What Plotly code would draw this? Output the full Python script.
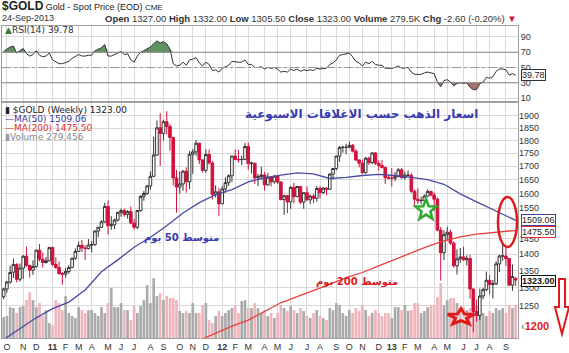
import math
import pandas as pd
import plotly.graph_objects as go

# ---------------- data (weekly bars, 24-Sep-2010 .. 24-Sep-2013) ----------------
first_week = "2010-09-24"
last_bar_date = "2013-09-24"

open_ = [1275,1297,1317,1346,1369,1325,1358,1394,1366,1352,1363,1413,1385,1375,1380,
         1421,1369,1360,1342,1340,1348,1360,1388,1409,1428,1420,1418,1429,1430,1474,1486,
         1504,1556,1491,1494,1510,1536,1542,1529,1539,1500,1486,1542,1591,1601,1628,1663,
         1743,1851,1828,1876,1856,1812,1657,1624,1635,1682,1643,1746,1755,1789,1724,1685,
         1745,1713,1598,1607,
         1565,1617,1640,1665,1739,1726,1725,1726,1776,1710,1712,1657,1662,1668,1632,1660,
         1643,1664,1642,1580,1593,1572,1623,1590,1626,1571,1604,1579,1592,1584,1619,1604,
         1620,1616,1671,1692,1739,1772,1773,1773,1781,1758,1724,1712,1676,1731,1714,1751,
         1712,1703,1696,1658,
         1656,1656,1662,1687,1658,1667,1667,1609,1581,1576,1577,1592,1608,1596,1581,1477,
         1405,1462,1470,1435,1365,1386,1392,1383,1387,1297,1234,1223,1277,1295,1322,1310,
         1312,1371,1395,1395,1387,1308,1327]
close = [1297,1317,1345,1369,1325,1358,1394,1366,1352,1363,1413,1385,1375,1380,1421,
         1369,1360,1342,1340,1348,1360,1388,1409,1428,1420,1418,1429,1430,1474,1486,1504,
         1556,1491,1494,1510,1536,1542,1529,1539,1500,1486,1542,1591,1601,1628,1663,1743,
         1851,1828,1876,1856,1812,1657,1624,1635,1682,1643,1746,1755,1789,1724,1685,1745,
         1713,1598,1607,1565,
         1617,1640,1665,1739,1726,1725,1726,1776,1710,1712,1657,1662,1668,1632,1660,1643,
         1664,1642,1580,1593,1572,1623,1590,1626,1571,1604,1579,1592,1584,1619,1604,1620,
         1616,1671,1692,1739,1772,1773,1773,1781,1758,1724,1712,1676,1731,1714,1751,1712,
         1703,1696,1658,1656,
         1656,1662,1687,1658,1667,1667,1609,1581,1576,1577,1592,1608,1596,1581,1477,1405,
         1462,1470,1435,1365,1386,1392,1383,1387,1297,1234,1223,1277,1295,1322,1310,1312,
         1371,1395,1395,1387,1308,1333,1323]
high = [1300,1320,1365,1387,1373,1372,1398,1424,1368,1382,1414,1432,1406,1392,1424,
        1424,1391,1378,1346,1358,1367,1390,1418,1440,1445,1428,1448,1441,1476,1487,1510,
        1569,1577,1523,1515,1537,1549,1548,1543,1556,1514,1544,1595,1610,1632,1681,1815,
        1881,1912,1884,1920,1866,1812,1686,1681,1686,1696,1758,1766,1802,1791,1727,1765,
        1764,1720,1630,1622,
        1627,1659,1670,1740,1764,1763,1740,1790,1792,1718,1713,1672,1699,1679,1676,1663,
        1666,1668,1645,1597,1596,1628,1640,1628,1628,1605,1627,1597,1600,1628,1628,1624,
        1624,1675,1693,1741,1778,1779,1787,1796,1786,1765,1726,1725,1735,1737,1754,1755,
        1722,1724,1698,1667,
        1693,1679,1694,1694,1680,1685,1676,1615,1619,1590,1598,1616,1612,1605,1587,1487,
        1476,1488,1478,1441,1416,1420,1424,1397,1398,1298,1267,1298,1300,1348,1338,1323,
        1379,1399,1434,1423,1388,1369,1332]
low = [1268,1286,1312,1329,1316,1318,1326,1362,1330,1338,1359,1378,1360,1372,1379,
       1365,1356,1338,1309,1330,1341,1358,1383,1408,1407,1383,1416,1406,1426,1454,1484,
       1501,1462,1478,1480,1505,1521,1521,1515,1496,1478,1480,1538,1576,1596,1615,1660,
       1739,1702,1800,1823,1760,1630,1535,1601,1611,1604,1617,1672,1740,1708,1677,1676,
       1706,1580,1587,1523,
       1565,1603,1628,1643,1725,1714,1705,1726,1688,1673,1635,1627,1651,1612,1629,1626,
       1636,1634,1577,1527,1533,1548,1566,1588,1564,1548,1575,1564,1567,1572,1584,1599,
       1595,1615,1651,1685,1717,1752,1746,1770,1753,1720,1696,1672,1673,1705,1708,1705,
       1683,1692,1635,1653,
       1626,1645,1659,1655,1651,1663,1603,1554,1565,1563,1572,1589,1591,1540,1473,1321,
       1382,1443,1430,1359,1339,1374,1380,1366,1269,1180,1207,1211,1268,1291,1281,1270,
       1308,1346,1380,1365,1306,1292,1305.5]
volume_k = [176,185,260,252,210,260,269,319,386,319, 260,294,185,235,126,109,319,294,235,353,
            210,185,168,260,235,210,235,235,210,185, 260,210,294,420,260,260,294,235,235,151,
            269,210,269,319,445,294,504,353,378,319, 353,336,336,319,227,210,227,210,294,210,
            210,277,294,151,126,185,227,185,210,235, 252,269,210,311,319,252,252,
            294,252,210,235,185,210,168,210,277,252, 227,269,235,210,252,227,185,168,210,235,
            185,168,151,252,235,294,277,210,185,235, 210,252,227,277,235,185,210,235,210,185,
            210,
            210,168,260,260,235,277,227,235,294,294, 210,227,260,277,277,344,462,277,319,336,
            336,294,252,260,235,252,319,277,252,210, 185,227,210,252,235,252,210,277,252,279]
rsi = [71,74,77,78,69,72,75,68,65,67,72,66,64,65,69,
       60,58,55,55,56,58,62,65,67,65,65,66,66,72,74,76,80,65,65,67,70,71,67,68,60,57,65,70,72,
       74,77,81,85,82,84,81,74,55,52,53,57,53,60,61,63,56,52,57,54,46,47,44,
       49,51,53,58,57,57,57,60,54,54,50,50,51,48,50,49,50,48,44,45,44,48,46,48,45,47,46,47,46,
       49,48,49,49,54,56,60,66,67,68,69,64,58,56,52,57,55,58,54,53,53,49,49,
       49,50,52,49,50,50,44,41,41,41,43,44,43,42,31,25,33,34,31,26,29,30,29,30,24,21,21,29,31,
       37,36,38,45,48,48,47,40,42,39.78]

ma_index = [0,5,10,15,20,25,30,35,40,45,50,55,60,65,70,75,80,85,90,95,100,105,110,115,120,
            125,130,135,140,145,150,155,157]
ma50 = [1160,1188,1217,1242,1260,1294,1347,1383,1422,1454,1491,1534,1569,1597,1615,1643,1657,
        1667,1676,1672,1655,1659,1666,1670,1666,1659,1651,1634,1600,1572,1545,1519,1509.06]
ma200_index = [55,60,65,70,75,80,85,90,95,100,105,110,115,120,125,130,135,140,145,150,155,157]
ma200 = [1140,1158,1175,1195,1211,1235,1258,1275,1292,1310,1330,1345,1365,1385,1405,1425,
         1442,1455,1464,1470,1474,1475.5]

month_letters = ["J", "F", "M", "A", "M", "J", "J", "A", "S", "O", "N", "D"]
price_ticks = [1250, 1300, 1350, 1400, 1450, 1500, 1550, 1600, 1650, 1700, 1750, 1800, 1850, 1900]
price_ticktext = ["1250", "1300", "1350", "1400", "1450", "", "1550", "1600", "1650", "1700",
                  "1750", "1800", "1850", "1900"]
rsi_ticks = [10, 30, 50, 70, 90]

# ---------------- derived ----------------
n = len(close)
dates = list(pd.date_range(first_week, periods=n - 1, freq="W-FRI").strftime("%Y-%m-%d")) + [last_bar_date]

tickvals, ticktext = [], []
for i in range(1, n):
    if dates[i][:7] != dates[i - 1][:7]:
        m = int(dates[i][5:7])
        tickvals.append(dates[i])
        ticktext.append("<b>%s</b>" % dates[i][2:4] if m == 1 else month_letters[m - 1])

GRAY_VOL = "#aaaaaa"
PINK_VOL = "#f0b4bb"
vol_colors = []
for i in range(n):
    prev = close[i - 1] if i > 0 else open_[i]
    vol_colors.append(PINK_VOL if close[i] < prev else GRAY_VOL)

GRID = "#d9d9d9"
FRAME = "#a0a0a0"

# pixel -> paper helpers (plot area: x 2..518, y 26..338)
L, R, T, B = 2, 518, 26, 338
def pxp(x):
    return (x - L) / (R - L)
def pyp(y):
    return (B - y) / (B - T)

fig = go.Figure()

# ---- RSI panel ----
fig.add_trace(go.Scatter(x=dates, y=[70] * n, mode="lines", line=dict(width=0),
                         hoverinfo="skip", xaxis="x", yaxis="y"))
fig.add_trace(go.Scatter(x=dates, y=[max(v, 70) for v in rsi], mode="lines", line=dict(width=0),
                         fill="tonexty", fillcolor="rgba(80,135,80,0.9)", xaxis="x", yaxis="y"))
fig.add_trace(go.Scatter(x=dates, y=[30] * n, mode="lines", line=dict(width=0),
                         hoverinfo="skip", xaxis="x", yaxis="y"))
fig.add_trace(go.Scatter(x=dates, y=[min(v, 30) for v in rsi], mode="lines", line=dict(width=0),
                         fill="tonexty", fillcolor="rgba(165,95,95,0.9)", xaxis="x", yaxis="y"))
fig.add_trace(go.Scatter(x=dates, y=rsi, mode="lines", line=dict(color="#333333", width=1),
                         xaxis="x", yaxis="y"))

# ---- volume (base of main panel) ----
fig.add_trace(go.Bar(x=dates, y=volume_k, marker=dict(color=vol_colors, line=dict(width=0)),
                     xaxis="x2", yaxis="y2"))

# ---- price candles + moving averages ----
fig.add_trace(go.Candlestick(
    x=dates, open=open_, high=high, low=low, close=close, xaxis="x2", yaxis="y3",
    increasing=dict(line=dict(color="#333333", width=1), fillcolor="#ffffff"),
    decreasing=dict(line=dict(color="#d0123c", width=1), fillcolor="#d0123c"),
    whiskerwidth=0))
fig.add_trace(go.Scatter(x=[dates[i] for i in ma_index], y=ma50, mode="lines",
                         line=dict(color="#4a4aa6", width=1.3), xaxis="x2", yaxis="y3"))
fig.add_trace(go.Scatter(x=[dates[i] for i in ma200_index], y=ma200, mode="lines",
                         line=dict(color="#e8403c", width=1.3), xaxis="x2", yaxis="y3"))

xr = [-0.5, n - 0.3]
common_x = dict(type="category", categoryorder="array", categoryarray=dates, range=xr,
                tickvals=tickvals, showgrid=True, gridcolor=GRID, gridwidth=1,
                showline=True, mirror=True, linecolor=FRAME, linewidth=1, ticks="",
                zeroline=False, fixedrange=True)

fig.update_layout(
    width=569, height=353,
    margin=dict(l=L, r=569 - R, t=T, b=353 - B),
    paper_bgcolor="white", plot_bgcolor="white",
    showlegend=False,
    font=dict(family="Liberation Sans, Arial, sans-serif", size=9, color="#333333"),
    bargap=0.18, boxgap=0.2, boxgroupgap=0,
    xaxis=dict(common_x, anchor="y", showticklabels=False),
    yaxis=dict(domain=[(B - 101) / (B - T), 1], range=[6.1, 104.4], side="right",
               tickvals=rsi_ticks, showgrid=True, gridcolor=GRID, showline=True, mirror=True,
               linecolor=FRAME, zeroline=False, ticks="", tickfont=dict(size=9, color="#333")),
    xaxis2=dict(common_x, anchor="y2", ticktext=ticktext, showticklabels=True,
                tickfont=dict(size=9, color="#333"), rangeslider=dict(visible=False)),
    yaxis2=dict(domain=[0, (B - 103) / (B - T)], range=[0, 1979], showticklabels=False,
                showgrid=False, showline=True, mirror=True, linecolor=FRAME, zeroline=False),
    yaxis3=dict(overlaying="y2", anchor="x2", side="right", type="log",
                range=[math.log10(1164), math.log10(1955)], tickvals=price_ticks,
                ticktext=price_ticktext,
                showgrid=True, gridcolor=GRID, zeroline=False, ticks="",
                tickfont=dict(size=9, color="#333")),
)

# RSI reference lines
fig.add_shape(type="line", xref="x domain", yref="y", x0=0, x1=1, y0=70, y1=70,
              line=dict(color="#888888", width=1))
fig.add_shape(type="line", xref="x domain", yref="y", x0=0, x1=1, y0=30, y1=30,
              line=dict(color="#888888", width=1))
fig.add_shape(type="line", xref="x domain", yref="y", x0=0, x1=1, y0=50, y1=50,
              line=dict(color="#999999", width=1, dash="dashdot"))

def star_path(cx, cy, rx, ry, inner=0.42):
    pts = []
    for k in range(10):
        ang = -math.pi / 2 + k * math.pi / 5
        r = 1.0 if k % 2 == 0 else inner
        pts.append((pxp(cx + rx * r * math.cos(ang)), pyp(cy + ry * r * math.sin(ang))))
    return "M " + " L ".join("%.5f,%.5f" % p for p in pts) + " Z"

fig.add_shape(type="path", xref="paper", yref="paper", path=star_path(426, 210, 11, 11),
              line=dict(color="#2faa2f", width=2.5), fillcolor="rgba(255,255,255,0.6)")
fig.add_shape(type="path", xref="paper", yref="paper", path=star_path(461, 317, 14, 8.5),
              line=dict(color="#e01a1a", width=3), fillcolor="rgba(255,255,255,0.3)")
fig.add_shape(type="circle", xref="paper", yref="paper", x0=pxp(498), x1=pxp(517),
              y0=pyp(247), y1=pyp(197), line=dict(color="#e01a1a", width=2.5))
arrow = [(559, 279), (565, 279), (565, 307), (569, 307), (562, 334), (555, 307), (559, 307)]
fig.add_shape(type="path", xref="paper", yref="paper",
              path="M " + " L ".join("%.5f,%.5f" % (pxp(a), pyp(b)) for a, b in arrow) + " Z",
              line=dict(color="#e01a1a", width=2), fillcolor="white")

def note(x, y, text, size=9, color="#333", xanchor="left", family=None, **kw):
    d = dict(xref="paper", yref="paper", x=pxp(x), y=pyp(y), text=text, showarrow=False,
             xanchor=xanchor, yanchor="middle", font=dict(size=size, color=color))
    if family:
        d["font"]["family"] = family
    d.update(kw)
    fig.add_annotation(**d)

# header
note(1, 6, "<b style='font-size:12px'>$GOLD</b> <span style='font-size:9px'>Gold - Spot Price (EOD)</span>"
           " <span style='font-size:8px'>CME</span>", size=9, color="#222", borderpad=0)
note(1, 18, "24-Sep-2013", size=9, color="#333", borderpad=0)
note(518, 18, "<b>Open</b> 1327.00 <b>High</b> 1332.00 <b>Low</b> 1305.50 <b>Close</b> 1323.00 "
              "<b>Volume</b> 279.5K <b>Chg</b> -2.60 (-0.20%) <span style='color:#d0123c'>▼</span>",
     size=9.5, color="#333", xanchor="right", borderpad=0)

# panel legends
VERD = "DejaVu Sans, Verdana, sans-serif"
note(3, 30, "<span style='color:#3b7a3b'>▲</span>RSI(14) 39.78", size=9, color="#333", family=VERD)
note(3, 110, "▮ $GOLD (Weekly) 1323.00", size=9, color="#222", family=VERD)
note(3, 119, "—MA(50) 1509.06", size=9, color="#3a3aa0", family=VERD)
note(3, 128, "—MA(200) 1475.50", size=9, color="#e03030", family=VERD)
note(3, 137, "<span style='color:#999'>▮</span>Volume 279,456", size=9, color="#8a8a8a", family=VERD)

# right side value boxes
note(521, 75, "39.78", size=9, color="#222", bordercolor="#333", borderwidth=1, borderpad=0,
     bgcolor="white")
note(521, 220, "1509.06", size=9, color="#222", bordercolor="#4040a0", borderwidth=1,
     borderpad=0, bgcolor="white")
note(521, 232, "1475.50", size=9, color="#222", bordercolor="#e03030", borderwidth=1,
     borderpad=0, bgcolor="white")
note(521, 281, "<b>1323.00</b>", size=9, color="#111", bordercolor="#111", borderwidth=1,
     borderpad=0, bgcolor="white")
note(519, 326, "<span style='color:#5a7a5a'>‹</span><b>1200</b>", size=11, color="#e01a1a")

# Arabic texts
AR = "DejaVu Sans, Noto Sans, sans-serif"
note(361, 114, "<b>اسعار الذهب حسب الاغلاقات الاسبوعية</b>", size=12, color="#3a3ab0",
     xanchor="center", family=AR)
note(181, 238, "<b>متوسط 50 يوم</b>", size=10, color="#3a3ab0", xanchor="center", family=AR)
note(357, 282, "<b>متوسط 200 يوم</b>", size=10, color="#e01a1a", xanchor="center", family=AR)

fig.write_html("out.html")
